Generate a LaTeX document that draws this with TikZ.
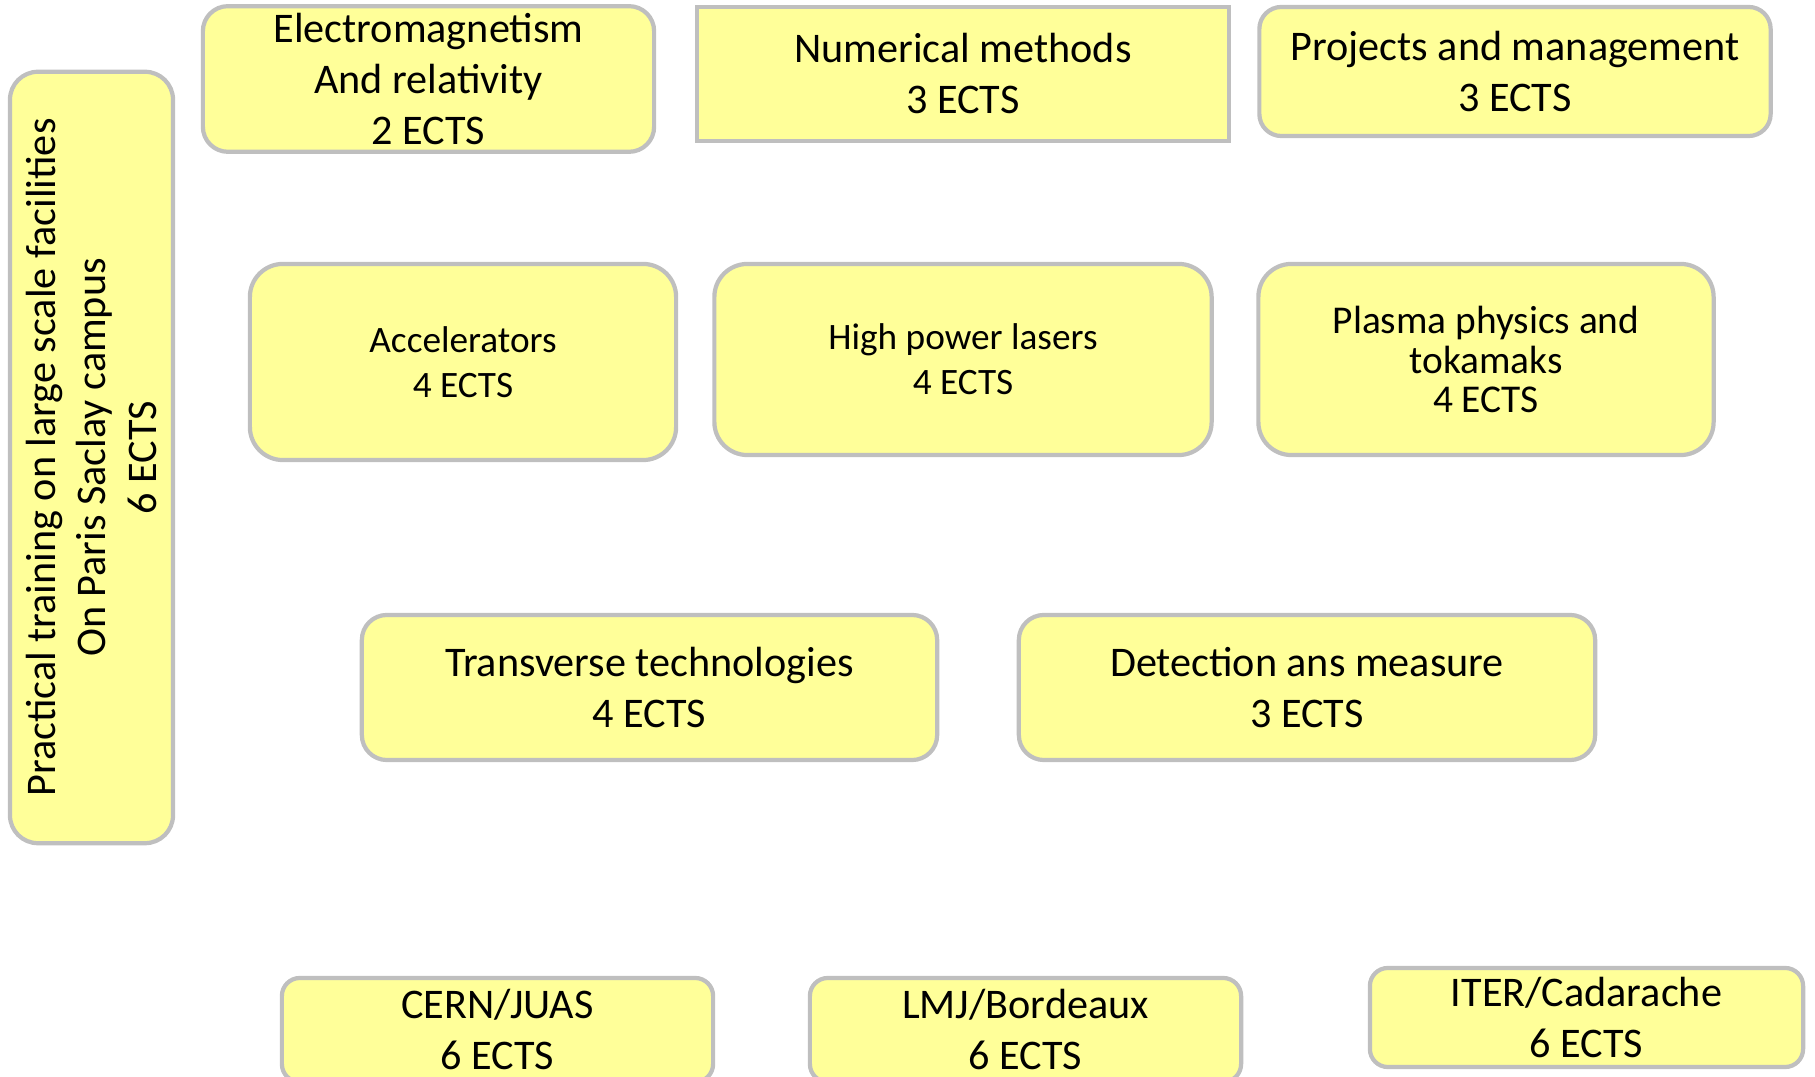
\documentclass[tikz,border=0pt]{standalone}
\usepackage{fontspec}
\setmainfont{Carlito}
\definecolor{boxfill}{HTML}{FFFF99}
\definecolor{boxline}{HTML}{BFBFBF}
\newcommand{\ects}[1]{#1 ECTS}
\tikzset{
	unit/.style={draw=boxline, fill=boxfill, line width=1.2pt, rounded corners=0.25cm, align=center, inner sep=2pt, font=\fontsize{12}{14.5}\selectfont},
	smallunit/.style={unit, rounded corners=0.33cm, font=\fontsize{10.6}{12.8}\selectfont}
}
\begin{document}
\begin{tikzpicture}[x=0.01cm,y=-0.01cm]
	\useasboundingbox (0,0) rectangle (1815,1077);
	% left column
	\node[unit, rotate=90, rounded corners=0.28cm, minimum width=7.71cm, minimum height=1.63cm] (train) at (91.5,457.5) {Practical training on large scale facilities\\On Paris Saclay campus\\\ects{6}};
	% first row
	\node[unit, minimum width=4.51cm, minimum height=1.44cm] (em) at (428.5,79) {Electromagnetism\\And relativity\\\ects{2}};
	\node[unit, sharp corners, minimum width=5.31cm, minimum height=1.34cm] (num) at (963,74) {Numerical methods\\\ects{3}};
	\node[unit, rounded corners=0.22cm, minimum width=5.11cm, minimum height=1.29cm] (proj) at (1515,71.5) {Projects and management\\\ects{3}};
	% second row
	\node[smallunit, minimum width=4.26cm, minimum height=1.96cm] (acc) at (463,362) {Accelerators\\\ects{4}};
	\node[smallunit, minimum width=4.97cm, minimum height=1.91cm] (hpl) at (963,359.5) {High power lasers\\\ects{4}};
	\node[smallunit, font=\fontsize{11.2}{11.2}\selectfont, minimum width=4.55cm, minimum height=1.91cm] (plasma) at (1486,359.5) {Plasma physics and\\tokamaks\\\ects{4}};
	% third row
	\node[unit, minimum width=5.75cm, minimum height=1.45cm] (trans) at (649.5,687.5) {Transverse technologies\\\ects{4}};
	\node[unit, minimum width=5.76cm, minimum height=1.45cm] (det) at (1307,687.5) {Detection ans measure\\\ects{3}};
	% facilities
	\node[unit, rounded corners=0.18cm, minimum width=4.31cm, minimum height=1.04cm] (cern) at (497.5,1030) {CERN/JUAS\\\ects{6}};
	\node[unit, rounded corners=0.18cm, minimum width=4.31cm, minimum height=1.04cm] (lmj) at (1025.5,1030) {LMJ/Bordeaux\\\ects{6}};
	\node[unit, rounded corners=0.18cm, minimum width=4.33cm, minimum height=0.99cm] (iter) at (1586.5,1017.5) {ITER/Cadarache\\\ects{6}};
\end{tikzpicture}
\end{document}
